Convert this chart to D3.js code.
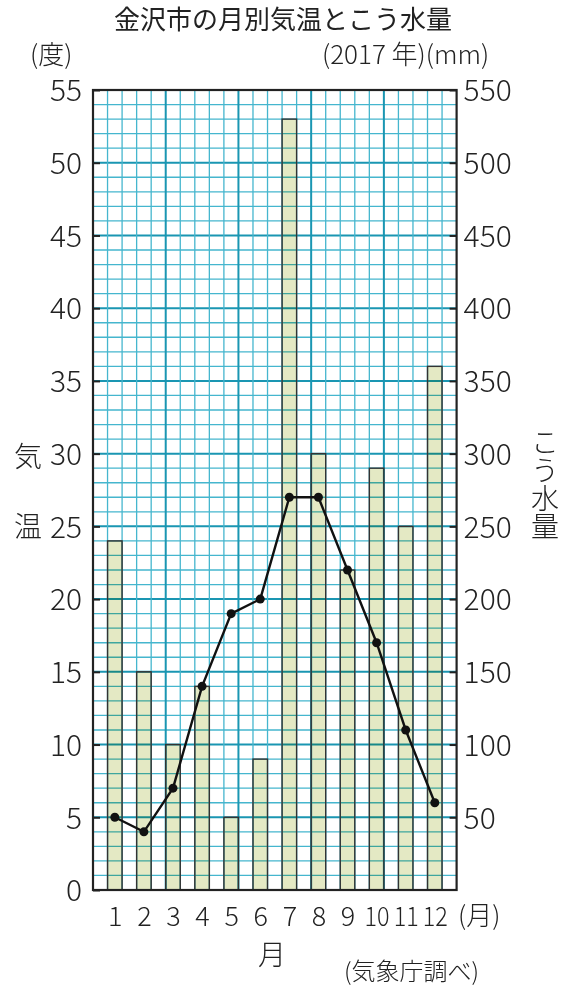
<!DOCTYPE html>
<html>
<head>
<meta charset="utf-8">
<script src="https://cdn.jsdelivr.net/npm/d3@7"></script>
<style>
  body { margin: 0; background: #fff; }
  svg text { fill: #222; }
</style>
</head>
<body>
<div id="container"><svg></svg></div>
<script>
let width = 567
let height = 989
let fontFamily = "'Noto Sans CJK JP', 'Noto Sans', sans-serif"

// data
let months = [1, 2, 3, 4, 5, 6, 7, 8, 9, 10, 11, 12]
let temperature = [5, 4, 7, 14, 19, 20, 27, 27, 22, 17, 11, 6]       // 度
let precipitation = [240, 150, 100, 140, 50, 90, 530, 300, 220, 290, 250, 360]  // mm
let tempTicks = [0, 5, 10, 15, 20, 25, 30, 35, 40, 45, 50, 55]
let rainTicks = [50, 100, 150, 200, 250, 300, 350, 400, 450, 500, 550]

let padding = { left: 93, right: 567 - 456.6, top: 90, bottom: 989 - 890 }

let svg = d3.select('#container').select('svg')
    .attr('width', width)
    .attr('height', height)
    .style('font-family', fontFamily)

// month scale: month m sits in column 2m-1 of a 25 column grid
let x = d3.scaleLinear()
    .domain([0.25, 12.75])
    .range([padding.left, width - padding.right])
let y = d3.scaleLinear()
    .domain([0, 55])
    .range([height - padding.bottom, padding.top])
let y2 = d3.scaleLinear()
    .domain([0, 550])
    .range([height - padding.bottom, padding.top])

// bars (fill only, grid goes on top)
svg.append('g')
    .selectAll('rect')
    .data(months)
    .enter().append('rect')
    .attr('x', d => x(d - 0.25))
    .attr('width', d => x(d + 0.25) - x(d - 0.25))
    .attr('y', (d, i) => y2(precipitation[i]))
    .attr('height', (d, i) => y2(0) - y2(precipitation[i]))
    .style('fill', '#e4e9c4')

// grid
let grid = svg.append('g').style('mix-blend-mode', 'multiply')
grid.selectAll('line.h')
    .data(d3.range(1, 55))
    .enter().append('line')
    .attr('x1', x(0.25)).attr('x2', x(12.75))
    .attr('y1', d => y(d)).attr('y2', d => y(d))
    .attr('stroke', d => d % 5 == 0 ? '#1a96b2' : '#45b6ce')
    .attr('stroke-width', d => d % 5 == 0 ? 2 : 1.3)
grid.selectAll('line.v')
    .data(d3.range(1, 25))
    .enter().append('line')
    .attr('y1', y(0)).attr('y2', y(55))
    .attr('x1', d => x(0.25 + d / 2)).attr('x2', d => x(0.25 + d / 2))
    .attr('stroke', d => d % 5 == 0 ? '#1a96b2' : '#45b6ce')
    .attr('stroke-width', d => d % 5 == 0 ? 2 : 1.3)

// bar outlines
svg.append('g')
    .selectAll('rect')
    .data(months)
    .enter().append('rect')
    .attr('x', d => x(d - 0.25))
    .attr('width', d => x(d + 0.25) - x(d - 0.25))
    .attr('y', (d, i) => y2(precipitation[i]))
    .attr('height', (d, i) => y2(0) - y2(precipitation[i]))
    .style('fill', 'none')
    .style('stroke', '#333')
    .style('stroke-width', 1.4)

// frame
svg.append('rect')
    .attr('x', x(0.25)).attr('y', y(55))
    .attr('width', x(12.75) - x(0.25))
    .attr('height', y(0) - y(55))
    .style('fill', 'none')
    .style('stroke', '#222')
    .style('stroke-width', 2.2)

// temperature line
let line = d3.line()
    .x((d, i) => x(months[i]))
    .y(d => y(d))
svg.append('path')
    .datum(temperature)
    .attr('d', line)
    .style('fill', 'none')
    .style('stroke', '#111')
    .style('stroke-width', 2.4)
svg.append('g')
    .selectAll('circle')
    .data(temperature)
    .enter().append('circle')
    .attr('cx', (d, i) => x(months[i]))
    .attr('cy', d => y(d))
    .attr('r', 4.5)
    .style('fill', '#111')

// left axis
let axis_y = d3.axisLeft(y)
    .tickValues(tempTicks)
    .tickSize(-7)
    .tickPadding(11)
    .tickFormat(d => d)
let gl = svg.append('g')
    .attr('transform', `translate(${x(0.25)}, 0)`)
    .call(axis_y)
gl.select('.domain').remove()
gl.selectAll('line').attr('stroke', '#222').attr('stroke-width', 2)
gl.selectAll('text')
    .attr('font-family', fontFamily)
    .attr('font-size', 30)
    .attr('font-weight', 300)
    .attr('dy', '0.36em')

// right axis (no 0 label on this side)
let axis_y2 = d3.axisRight(y2)
    .tickValues(rainTicks)
    .tickSize(-7)
    .tickPadding(7)
    .tickFormat(d => d)
let gr = svg.append('g')
    .attr('transform', `translate(${x(12.75)}, 0)`)
    .call(axis_y2)
gr.select('.domain').remove()
gr.selectAll('line').attr('stroke', '#222').attr('stroke-width', 2)
gr.selectAll('text')
    .attr('font-family', fontFamily)
    .attr('font-size', 30)
    .attr('font-weight', 300)
    .attr('dy', '0.36em')

// month axis
let axis_x = d3.axisBottom(x)
    .tickValues(months)
    .tickSize(0)
    .tickPadding(12)
    .tickFormat(d => d)
let gb = svg.append('g')
    .attr('transform', `translate(0, ${y(0)})`)
    .call(axis_x)
gb.select('.domain').remove()
gb.selectAll('text')
    .attr('font-family', fontFamily)
    .attr('font-size', 27)
    .attr('font-weight', 300)
    .attr('dy', '0.9em')
    .attr('textLength', d => d >= 10 ? 25 : null)
    .attr('lengthAdjust', 'spacingAndGlyphs')

// texts
svg.append('text')
    .attr('x', 283).attr('y', 29)
    .attr('text-anchor', 'middle')
    .attr('font-size', 26)
    .attr('font-weight', 400)
    .text('金沢市の月別気温とこう水量')
svg.append('text')
    .attr('x', 30).attr('y', 64)
    .attr('font-size', 26)
    .attr('font-weight', 300)
    .text('(度)')
svg.append('text')
    .attr('x', 322).attr('y', 64)
    .attr('font-size', 26)
    .attr('font-weight', 300)
    .text('(2017 年)(mm)')
svg.append('text')
    .attr('x', 458).attr('y', 925)
    .attr('font-size', 26)
    .attr('font-weight', 300)
    .text('(月)')
svg.append('text')
    .attr('x', 272).attr('y', 965)
    .attr('text-anchor', 'middle')
    .attr('font-size', 28)
    .attr('font-weight', 300)
    .text('月')
svg.append('text')
    .attr('x', 344).attr('y', 980)
    .attr('font-size', 24)
    .attr('font-weight', 300)
    .text('(気象庁調べ)')

// side labels
svg.append('text')
    .attr('x', 28).attr('y', 467)
    .attr('text-anchor', 'middle')
    .attr('font-size', 28)
    .attr('font-weight', 300)
    .text('気')
svg.append('text')
    .attr('x', 28).attr('y', 537)
    .attr('text-anchor', 'middle')
    .attr('font-size', 28)
    .attr('font-weight', 300)
    .text('温')
svg.append('text')
    .attr('x', 545).attr('y', 428)
    .style('writing-mode', 'vertical-rl')
    .attr('font-size', 28)
    .attr('font-weight', 300)
    .text('こう水量')
</script>
</body>
</html>
